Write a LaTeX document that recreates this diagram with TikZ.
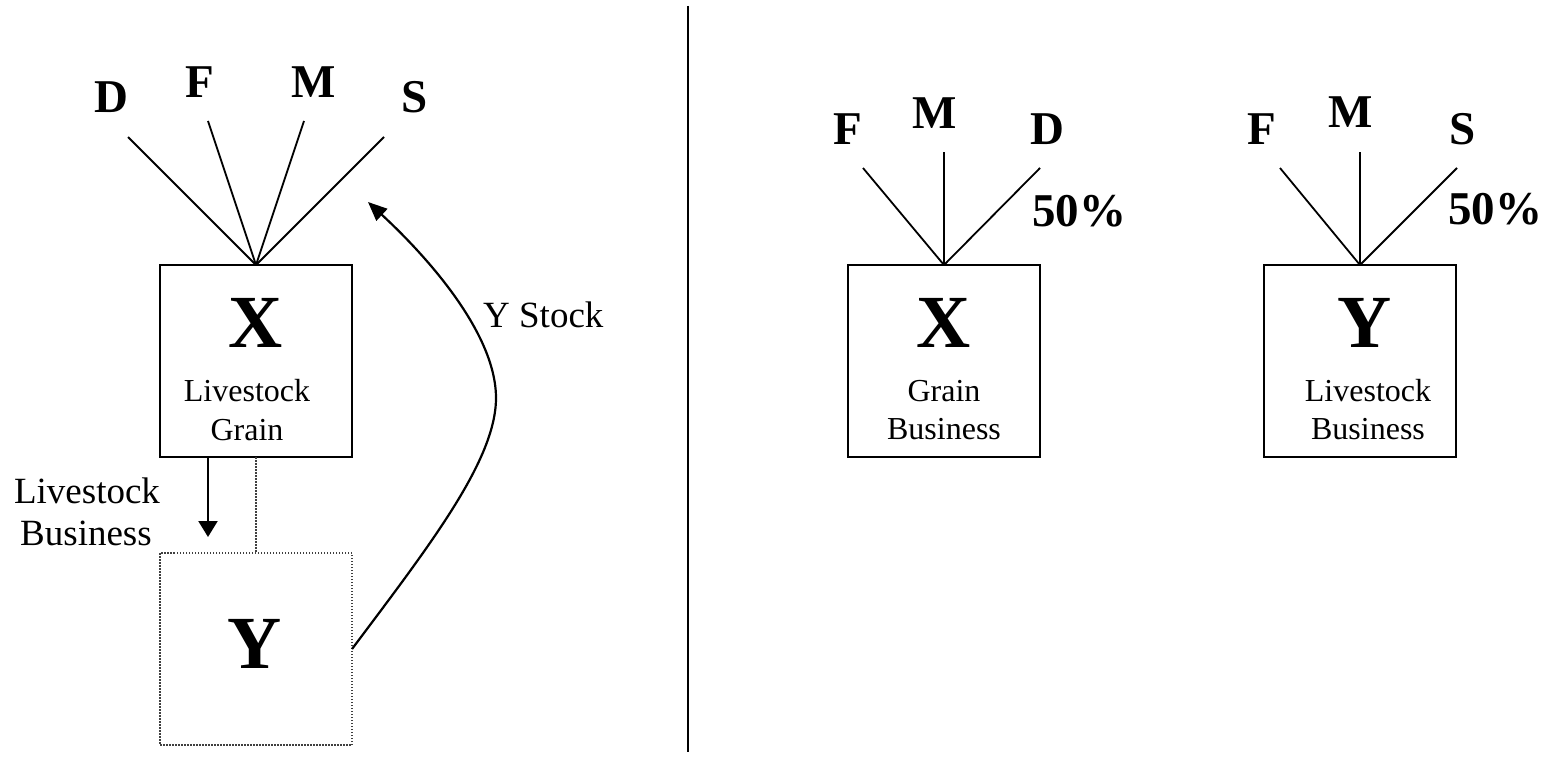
\documentclass[tikz,border=0pt]{standalone}
\usepackage{fontspec}
\setmainfont{Liberation Serif}
\usetikzlibrary{arrows.meta}
\begin{document}
\begin{tikzpicture}[x=1pt,y=-1pt,
  box/.style={draw, line width=2.3pt, minimum width=192pt, minimum height=192pt, inner sep=0pt, outer sep=0pt},
  dotbox/.style={draw=black!75, line width=1.6pt, dash pattern=on 1.5pt off 1.5pt, minimum width=192pt, minimum height=192pt, inner sep=0pt, outer sep=0pt},
  dotline/.style={draw=black!75, line width=1.6pt, dash pattern=on 1.5pt off 1.5pt},
  fan/.style={line width=1.8pt},
  conn/.style={line width=2.2pt},
  big/.style={font=\fontsize{75}{75}\selectfont\bfseries, inner sep=0pt, anchor=base},
  lbl/.style={font=\fontsize{47}{47}\selectfont\bfseries, inner sep=0pt, anchor=base},
  intext/.style={font=\fontsize{32}{32}\selectfont, inner sep=0pt, anchor=base},
  side/.style={font=\fontsize{37}{37}\selectfont, inner sep=0pt, anchor=base},
]
\useasboundingbox (0,0) rectangle (1551,757);

% ---------- left part ----------
\node[box] (bx) at (256,361) {};
\node[big] (bxl) at (256,347) {X};
\node[intext] (bxt1) at (247,401) {Livestock};
\node[intext] (bxt2) at (247,440) {Grain};

\node[dotbox] (by) at (256,649) {};
\node[big] (byl) at (255,668) {Y};

\coordinate (lD) at (128,137);
\coordinate (lF) at (208,121);
\coordinate (lM) at (304,121);
\coordinate (lS) at (384,137);
\draw[fan] (bx.north) -- (lD);
\draw[fan] (bx.north) -- (lF);
\draw[fan] (bx.north) -- (lM);
\draw[fan] (bx.north) -- (lS);
\node[lbl] (tD) at (111.5,113) {D};
\node[lbl] (tF) at (199.5,98) {F};
\node[lbl] (tM) at (314,98) {M};
\node[lbl] (tS) at (415,113) {S};

\coordinate (dtip) at (208,537);
\draw[conn, -{Triangle[length=16pt,width=19pt]}] (bx.south -| dtip) -- (dtip);
\draw[dotline] (bx.south) -- (by.north);
\node[side] (lb1) at (87,503) {Livestock};
\node[side] (lb2) at (86,545) {Business};

\coordinate (ctip) at (368,202);
\coordinate (cmid) at (496,398);
\draw[conn, -{Triangle[length=19pt,width=16pt]}] (by.east)
  .. controls (430,545) and (496,460) .. (cmid)
  .. controls (496,330) and (420,250) .. (ctip);
\node[side, anchor=base west] (ys) at (483,327) {Y Stock};

% ---------- divider ----------
\coordinate (dvt) at (688,6);
\coordinate (dvb) at (688,752);
\draw[conn] (dvt) -- (dvb);

% ---------- right part: X ----------
\node[box] (rx) at (944,361) {};
\node[big] (rxl) at (944,347) {X};
\node[intext] (rxt1) at (944,401) {Grain};
\node[intext] (rxt2) at (944,439) {Business};
\coordinate (xF) at (863,168);
\coordinate (xM) at (944,152);
\coordinate (xD) at (1040,168);
\draw[fan] (rx.north) -- (xF);
\draw[fan] (rx.north) -- (xM);
\draw[fan] (rx.north) -- (xD);
\node[lbl] (xtF) at (848,145) {F};
\node[lbl] (xtM) at (935,129) {M};
\node[lbl] (xtD) at (1047,145) {D};
\node[lbl] (xp) at (1079,226) {50\%};

% ---------- right part: Y ----------
\node[box] (ry) at (1360,361) {};
\node[big] (ryl) at (1365,347) {Y};
\node[intext] (ryt1) at (1368,401) {Livestock};
\node[intext] (ryt2) at (1368,439) {Business};
\coordinate (yF) at (1280,168);
\coordinate (yM) at (1360,152);
\coordinate (yS) at (1457,168);
\draw[fan] (ry.north) -- (yF);
\draw[fan] (ry.north) -- (yM);
\draw[fan] (ry.north) -- (yS);
\node[lbl] (ytF) at (1262,145) {F};
\node[lbl] (ytM) at (1351,128) {M};
\node[lbl] (ytS) at (1463,145) {S};
\node[lbl] (yp) at (1495,225) {50\%};
\end{tikzpicture}
\end{document}
